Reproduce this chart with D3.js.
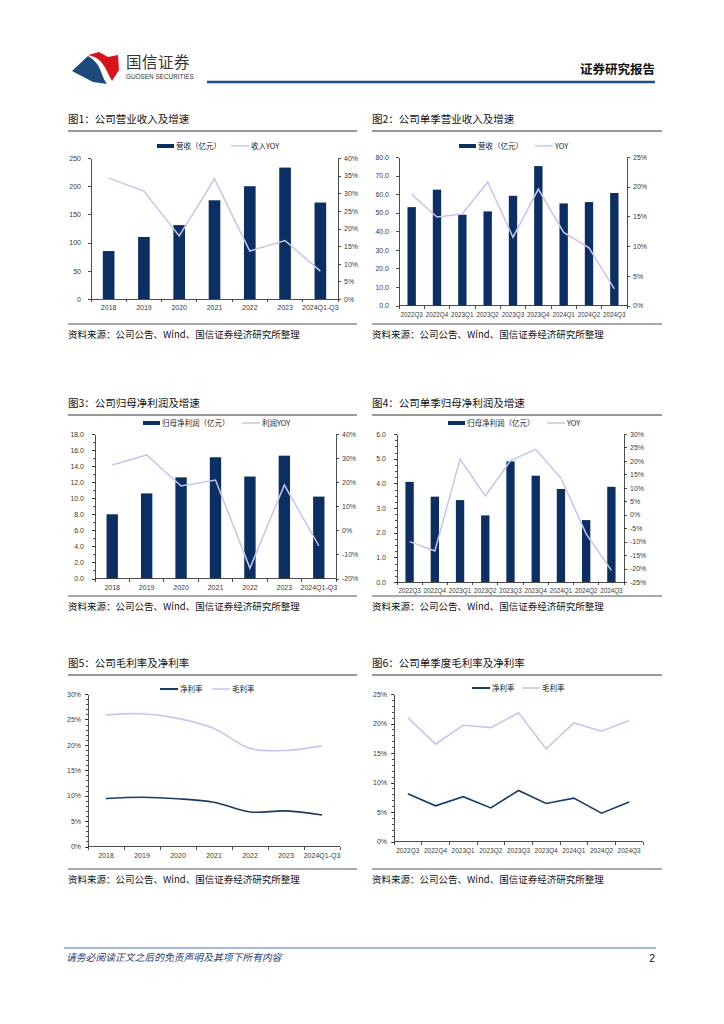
<!DOCTYPE html>
<html>
<head>
<meta charset="utf-8">
<script src="https://cdn.jsdelivr.net/npm/d3@7"></script>
<style>
body { margin: 0; background: #fff; }
svg { display: block; font-family: "Liberation Sans", "Noto Sans CJK SC", sans-serif; }
.cn { font-family: "Noto Sans CJK SC", sans-serif; }
.axis path, .axis line { stroke: #222; stroke-width: 0.8; shape-rendering: crispEdges; }
.axis text { fill: #3a3a3a; font-size: 7px; font-family: "Liberation Sans", sans-serif; }
</style>
</head>
<body>
<svg id="page" width="724" height="1024"></svg>
<script>
// 类目
var yearCats = ["2018", "2019", "2020", "2021", "2022", "2023", "2024Q1-Q3"];
var quarterCats = ["2022Q3", "2022Q4", "2023Q1", "2023Q2", "2023Q3", "2023Q4", "2024Q1", "2024Q2", "2024Q3"];

// 图1 营收（亿元）及收入YOY(%)
var revenueYear = [85, 110, 131, 175, 200, 233, 171];
var revenueYearYoy = [34.3, 30.6, 17.9, 34.1, 13.6, 16.6, 7.9];
// 图2 单季营收及YOY
var revenueQuarter = [53.0, 62.4, 48.9, 50.7, 59.1, 75.1, 55.0, 55.7, 60.6];
var revenueQuarterYoy = [18.7, 14.9, 15.4, 20.8, 11.5, 19.6, 12.3, 9.7, 2.8];
// 图3 归母净利润及YOY
var profitYear = [8.0, 10.6, 12.6, 15.1, 12.7, 15.3, 10.2];
var profitYearYoy = [27.1, 31.3, 18.4, 20.9, -15.7, 18.8, -6.4];
// 图4 单季归母净利润及YOY
var profitQuarter = [4.06, 3.46, 3.32, 2.70, 4.89, 4.31, 3.77, 2.51, 3.86];
var profitQuarterYoy = [-10.0, -13.5, 20.7, 7.0, 20.1, 24.3, 13.6, -7.1, -20.7];
// 图5 毛利率 / 净利率
var grossYear = [25.9, 26.1, 25.2, 23.2, 19.3, 18.9, 19.8];
var netYear = [9.45, 9.7, 9.4, 8.7, 6.8, 7.0, 6.2];
// 图6 单季度毛利率 / 净利率
var grossQuarter = [21.0, 16.5, 19.7, 19.3, 21.8, 15.7, 20.1, 18.7, 20.5];
var netQuarter = [8.1, 6.05, 7.6, 5.7, 8.65, 6.45, 7.35, 4.8, 6.7];

// 刻度
var c1LeftTicks = [0, 50, 100, 150, 200, 250];
var c1RightTicks = [0, 5, 10, 15, 20, 25, 30, 35, 40];
var c2LeftTicks = [0, 10, 20, 30, 40, 50, 60, 70, 80];
var c2RightTicks = [0, 5, 10, 15, 20, 25];
var c3LeftTicks = [0, 2, 4, 6, 8, 10, 12, 14, 16, 18];
var c3RightTicks = [-20, -10, 0, 10, 20, 30, 40];
var c4LeftTicks = [0, 1, 2, 3, 4, 5, 6];
var c4RightTicks = [-25, -20, -15, -10, -5, 0, 5, 10, 15, 20, 25, 30];
var c5Ticks = [0, 5, 10, 15, 20, 25, 30];
var c6Ticks = [0, 5, 10, 15, 20, 25];

var NAVY = "#0b2f62";
var LAVENDER = "#c6c6ee";
var DARKLINE = "#1c3a66";
var SOURCE = "资料来源：公司公告、Wind、国信证券经济研究所整理";

var svg = d3.select("#page");

// 页眉
function drawHeader() {
    var g = svg.append("g");
    g.append("path").attr("d", "M72,71 L88,56 C93,59 96,62 99,67 C102,73 103,79 107,84 L93,82 Z").attr("fill", "#1d4a7c");
    g.append("path").attr("d", "M88,55 L99,52 L108,57 L118,55 L119,70 L112,81 C108,74 106,68 102,63 C98,58 93,56 88,55 Z").attr("fill", "#d7141c");
    g.append("text").attr("class", "cn").attr("x", 126).attr("y", 68)
        .attr("font-size", 15.5).attr("fill", "#333").attr("letter-spacing", 0.5).text("国信证券");
    g.append("text").attr("x", 126).attr("y", 79).attr("font-size", 6.4).attr("fill", "#333").text("GUOSEN SECURITIES");
    g.append("line").attr("x1", 207).attr("x2", 655).attr("y1", 82).attr("y2", 82)
        .attr("stroke", "#1f4e8c").attr("stroke-width", 2.4);
    g.append("text").attr("class", "cn").attr("x", 655).attr("y", 74).attr("text-anchor", "end")
        .attr("font-size", 12.5).attr("font-weight", "bold").attr("fill", "#111").text("证券研究报告");
}

function drawFrame(o) {
    svg.append("text").attr("class", "cn").attr("x", o.fx0).attr("y", o.titleY)
        .attr("font-size", 10.5).attr("fill", "#111").text(o.title);
    svg.append("line").attr("x1", o.fx0).attr("x2", o.fx1).attr("y1", o.titleY + 8).attr("y2", o.titleY + 8)
        .attr("stroke", "#333").attr("stroke-width", 1);
    svg.append("line").attr("x1", o.fx0).attr("x2", o.fx1).attr("y1", o.sepY).attr("y2", o.sepY)
        .attr("stroke", "#555").attr("stroke-width", 1);
    svg.append("text").attr("class", "cn").attr("x", o.fx0).attr("y", o.sepY + 14)
        .attr("font-size", 9.5).attr("fill", "#111").text(SOURCE);
}

function legendItem(x, y, type, color, label) {
    if (type == "bar") {
        svg.append("rect").attr("x", x).attr("y", y - 2).attr("width", 17).attr("height", 4).attr("fill", color);
    } else {
        svg.append("line").attr("x1", x).attr("x2", x + 18).attr("y1", y).attr("y2", y)
            .attr("stroke", color).attr("stroke-width", type == "dark" ? 2 : 1.5);
    }
    svg.append("text").attr("class", "cn").attr("x", x + (type == "bar" ? 19 : 20)).attr("y", y + 2.6)
        .attr("font-size", 7.5).attr("fill", "#222").text(label);
}

function xAxis(x, cats, y, fs) {
    var g = svg.append("g").attr("class", "axis");
    var r = x.range();
    g.append("line").attr("x1", r[0]).attr("x2", r[1]).attr("y1", y).attr("y2", y);
    var step = (r[1] - r[0]) / cats.length;
    for (var i = 0; i <= cats.length; i++) {
        g.append("line").attr("x1", r[0] + i * step).attr("x2", r[0] + i * step).attr("y1", y).attr("y2", y + 3);
    }
    g.selectAll("text.xl").data(cats).enter().append("text").attr("class", "xl")
        .attr("x", function (d) { return x(d) + x.bandwidth() / 2; })
        .attr("y", y + 11).attr("text-anchor", "middle")
        .style("font-size", (fs || 7) + "px")
        .text(function (d) { return d; });
}

function minorTicks(y, x0, step) {
    var d = y.domain();
    var g = svg.append("g").attr("class", "axis");
    for (var v = d[0]; v <= d[1] + 1e-9; v += step) {
        g.append("line").attr("x1", x0 - 2).attr("x2", x0).attr("y1", Math.round(y(v)) + 0.5).attr("y2", Math.round(y(v)) + 0.5);
    }
}

// 柱状 + 折线
function comboChart(o) {
    drawFrame(o);
    legendItem(o.lg[0], o.lg[2], "bar", NAVY, o.barName);
    legendItem(o.lg[1], o.lg[2], "light", LAVENDER, o.lineName);

    var x = d3.scaleBand().domain(o.cats).range([o.x0, o.x1]).paddingInner(0.67).paddingOuter(0.335);
    var yL = d3.scaleLinear().domain([o.lTicks[0], o.lTicks[o.lTicks.length - 1]]).range([o.y1, o.y0]);
    var yR = d3.scaleLinear().domain([o.rTicks[0], o.rTicks[o.rTicks.length - 1]]).range([o.y1, o.y0]);

    svg.append("g").selectAll("rect").data(o.bars).enter().append("rect")
        .attr("x", function (d, i) { return x(o.cats[i]); })
        .attr("y", function (d) { return yL(d); })
        .attr("width", x.bandwidth())
        .attr("height", function (d) { return yL(0) - yL(d); })
        .attr("fill", NAVY);

    var line = d3.line()
        .x(function (d, i) { return x(o.cats[i]) + x.bandwidth() / 2; })
        .y(function (d) { return yR(d); });
    svg.append("path").datum(o.line).attr("d", line).attr("fill", "none")
        .attr("stroke", LAVENDER).attr("stroke-width", 1.5);

    svg.append("g").attr("class", "axis").attr("transform", "translate(" + o.x0 + ",0)")
        .call(d3.axisLeft(yL).tickValues(o.lTicks).tickFormat(o.lFmt).tickSize(3).tickSizeOuter(0).tickPadding(o.lPad));
    svg.append("g").attr("class", "axis").attr("transform", "translate(" + o.x1 + ",0)")
        .call(d3.axisRight(yR).tickValues(o.rTicks).tickFormat(function (d) { return d + "%"; }).tickSize(3).tickSizeOuter(0).tickPadding(3));
    if (o.minor) minorTicks(yL, o.x0, o.minor);
    xAxis(x, o.cats, o.y1, o.xfs);
}

// 两条折线
function marginChart(o) {
    drawFrame(o);
    legendItem(o.lg[0], o.lg[2], "dark", DARKLINE, "净利率");
    legendItem(o.lg[1], o.lg[2], "light", LAVENDER, "毛利率");

    var x = d3.scaleBand().domain(o.cats).range([o.x0, o.x1]);
    var y = d3.scaleLinear().domain([o.ticks[0], o.ticks[o.ticks.length - 1]]).range([o.y1, o.y0]);
    var line = d3.line()
        .x(function (d, i) { return x(o.cats[i]) + x.bandwidth() / 2; })
        .y(function (d) { return y(d); })
        .curve(o.smooth ? d3.curveCatmullRom.alpha(0.5) : d3.curveLinear);

    svg.append("path").datum(o.gross).attr("d", line).attr("fill", "none").attr("stroke", LAVENDER).attr("stroke-width", 1.6);
    svg.append("path").datum(o.net).attr("d", line).attr("fill", "none").attr("stroke", DARKLINE).attr("stroke-width", 1.6);

    svg.append("g").attr("class", "axis").attr("transform", "translate(" + o.x0 + ",0)")
        .call(d3.axisLeft(y).tickValues(o.ticks).tickFormat(function (d) { return d + "%"; }).tickSize(3).tickSizeOuter(0).tickPadding(o.lPad));
    minorTicks(y, o.x0, 1);
    xAxis(x, o.cats, o.y1, o.xfs);
}

drawHeader();

comboChart({
    title: "图1：公司营业收入及增速", fx0: 68, fx1: 357, titleY: 123, sepY: 324,
    lg: [157, 231, 146], barName: "营收（亿元）", lineName: "收入YOY",
    cats: yearCats, bars: revenueYear, line: revenueYearYoy,
    x0: 91, x1: 338, y0: 158, y1: 299,
    lTicks: c1LeftTicks, rTicks: c1RightTicks, lFmt: d3.format("d"), lPad: 7
});
comboChart({
    title: "图2：公司单季营业收入及增速", fx0: 372, fx1: 662, titleY: 123, sepY: 324,
    lg: [459, 535, 146], barName: "营收（亿元）", lineName: "YOY",
    cats: quarterCats, bars: revenueQuarter, line: revenueQuarterYoy,
    x0: 399, x1: 627, y0: 157, y1: 305.5,
    lTicks: c2LeftTicks, rTicks: c2RightTicks, lFmt: d3.format(".1f"), lPad: 7, xfs: 6.3
});
comboChart({
    title: "图3：公司归母净利润及增速", fx0: 68, fx1: 357, titleY: 407, sepY: 596,
    lg: [143, 242, 423], barName: "归母净利润（亿元）", lineName: "利润YOY",
    cats: yearCats, bars: profitYear, line: profitYearYoy,
    x0: 95, x1: 336, y0: 434, y1: 578.5,
    lTicks: c3LeftTicks, rTicks: c3RightTicks, lFmt: d3.format(".1f"), lPad: 8, minor: 1
});
comboChart({
    title: "图4：公司单季归母净利润及增速", fx0: 372, fx1: 662, titleY: 407, sepY: 596,
    lg: [448, 547, 423], barName: "归母净利润（亿元）", lineName: "YOY",
    cats: quarterCats, bars: profitQuarter, line: profitQuarterYoy,
    x0: 397, x1: 624, y0: 434, y1: 582,
    lTicks: c4LeftTicks, rTicks: c4RightTicks, lFmt: d3.format(".1f"), lPad: 8, minor: 0.25, xfs: 6.3
});
marginChart({
    title: "图5：公司毛利率及净利率", fx0: 68, fx1: 357, titleY: 667, sepY: 869,
    lg: [160, 212, 689], cats: yearCats, gross: grossYear, net: netYear, smooth: true,
    x0: 88, x1: 340, y0: 694, y1: 846.5, ticks: c5Ticks, lPad: 4
});
marginChart({
    title: "图6：公司单季度毛利率及净利率", fx0: 372, fx1: 662, titleY: 667, sepY: 869,
    lg: [472, 522, 688], cats: quarterCats, gross: grossQuarter, net: netQuarter, smooth: false,
    x0: 394, x1: 643, y0: 694, y1: 841.5, ticks: c6Ticks, lPad: 4, xfs: 6.5
});

// 页脚
svg.append("line").attr("x1", 64).attr("x2", 656).attr("y1", 948).attr("y2", 948)
    .attr("stroke", "#4a78ad").attr("stroke-width", 1);
svg.append("text").attr("class", "cn").attr("x", 66).attr("y", 961).attr("font-size", 9.8)
    .attr("font-style", "italic").attr("fill", "#1f3f73").text("请务必阅读正文之后的免责声明及其项下所有内容");
svg.append("text").attr("x", 655).attr("y", 962).attr("text-anchor", "end").attr("font-size", 10.5)
    .attr("fill", "#111").text("2");
</script>
</body>
</html>
